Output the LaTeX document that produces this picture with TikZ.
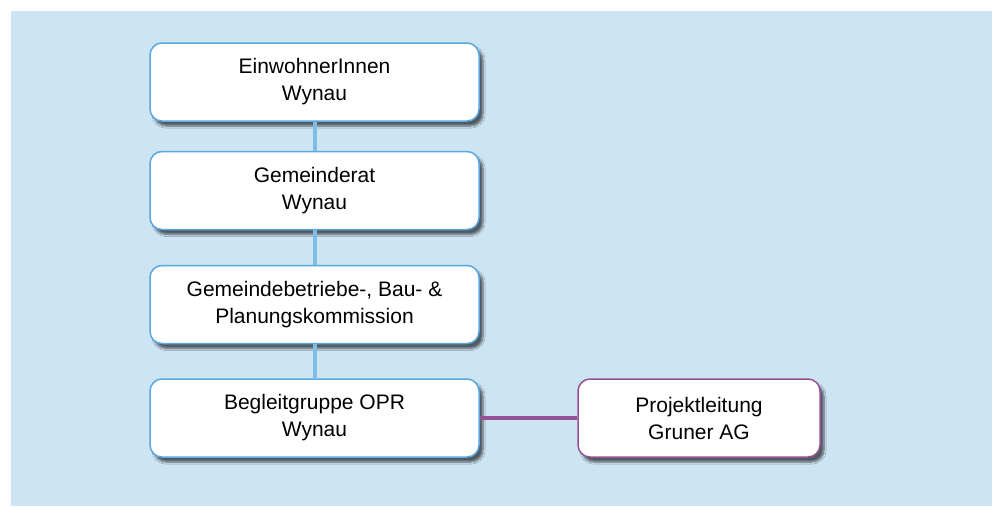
\documentclass[tikz,border=0pt]{standalone}
\usepackage{fontspec}
\setmainfont{Liberation Sans}
\usetikzlibrary{shadows.blur}
\definecolor{bgblue}{RGB}{205,228,243}
\definecolor{edgeblue}{RGB}{90,168,224}
\definecolor{lineblue}{RGB}{125,189,232}
\definecolor{purp}{RGB}{150,80,150}
\tikzset{
  orgbox/.style={draw=edgeblue, line width=1.5pt, fill=white, rounded corners=12pt,
    minimum width=329pt, minimum height=78pt, align=center,
    font=\fontsize{21}{27}\selectfont,
    blur shadow={shadow xshift=4pt, shadow yshift=-5pt, shadow blur steps=6, shadow opacity=60}},
  pbox/.style={orgbox, draw=purp, minimum width=242pt},
  vline/.style={draw=lineblue, line width=4pt},
  pline/.style={draw=purp, line width=4pt}
}
\begin{document}
\begin{tikzpicture}[x=1pt,y=-1pt]
\useasboundingbox (0,0) rectangle (992,506);
\fill[bgblue] (11,11) rectangle (992,506);
\node[orgbox] (a) at (314.5,82) {EinwohnerInnen\\Wynau};
\node[orgbox] (b) at (314.5,190.5) {Gemeinderat\\Wynau};
\node[orgbox] (c) at (314.5,304.5) {Gemeindebetriebe-, Bau- \&\\Planungskommission};
\node[orgbox] (d) at (314.5,418) {Begleitgruppe OPR\\Wynau};
\node[pbox] (e) at (699,418) {Projektleitung\\Gruner AG};
\draw[vline] (a.south) -- (b.north);
\draw[vline] (b.south) -- (c.north);
\draw[vline] (c.south) -- (d.north);
\draw[pline] (d.east) -- (e.west);
\end{tikzpicture}
\end{document}
